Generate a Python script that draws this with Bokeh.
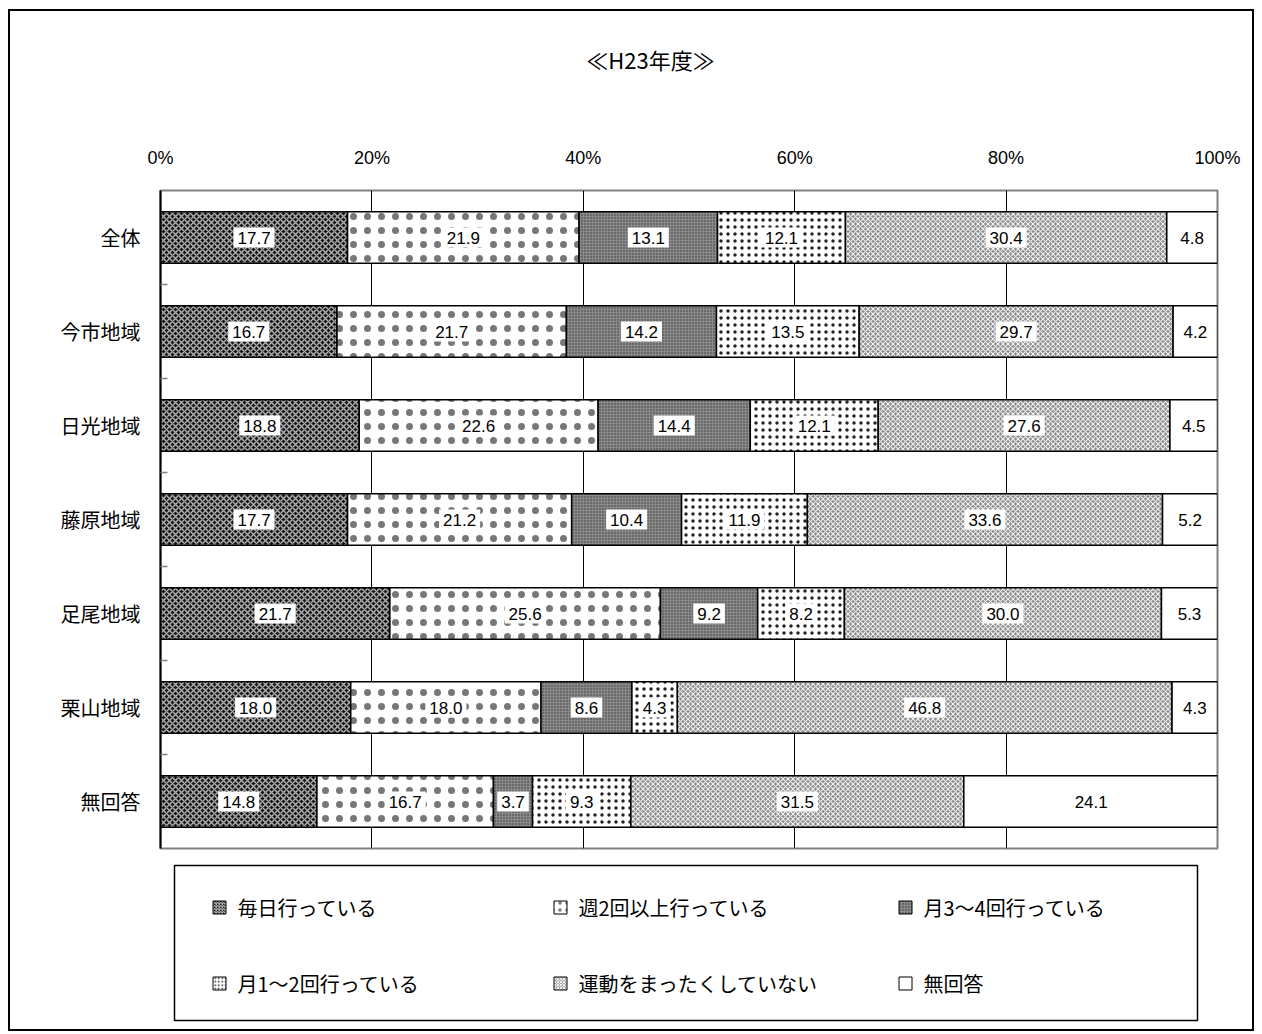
import numpy as np
from bokeh.plotting import figure
from bokeh.models import Range1d, FixedTicker
from bokeh.layouts import column
from bokeh.core.properties import value
from bokeh.embed import file_html
from bokeh.resources import INLINE

title_text = "≪H23年度≫"
categories = ["全体", "今市地域", "日光地域", "藤原地域", "足尾地域", "栗山地域", "無回答"]
series_names = ["毎日行っている", "週2回以上行っている", "月3～4回行っている",
                "月1～2回行っている", "運動をまったくしていない", "無回答"]
mainichi = [17.7, 16.7, 18.8, 17.7, 21.7, 18.0, 14.8]
shu2 = [21.9, 21.7, 22.6, 21.2, 25.6, 18.0, 16.7]
tsuki34 = [13.1, 14.2, 14.4, 10.4, 9.2, 8.6, 3.7]
tsuki12 = [12.1, 13.5, 12.1, 11.9, 8.2, 4.3, 9.3]
nashi = [30.4, 29.7, 27.6, 33.6, 30.0, 46.8, 31.5]
mukaitou = [4.8, 4.2, 4.5, 5.2, 5.3, 4.3, 24.1]
x_ticks = [0, 20, 40, 60, 80, 100]
x_tick_labels = ["0%", "20%", "40%", "60%", "80%", "100%"]

series_values = [mainichi, shu2, tsuki34, tsuki12, nashi, mukaitou]

styles = [
    dict(fill_color="#1a1a1a", hatch_pattern="diagonal_cross", hatch_color="#b0b0b0", hatch_scale=6, hatch_weight=1.4),
    dict(fill_color="white", hatch_pattern="dot", hatch_color="#777777", hatch_scale=14, hatch_weight=0.5),
    dict(fill_color="#8a8a8a", hatch_pattern="dot", hatch_color="#333333", hatch_scale=3, hatch_weight=0.9),
    dict(fill_color="white", hatch_pattern="dot", hatch_color="#222222", hatch_scale=7, hatch_weight=0.5),
    dict(fill_color="#8c8c8c", hatch_pattern="diagonal_cross", hatch_color="#f0f0f0", hatch_scale=5, hatch_weight=1.1),
    dict(fill_color="white"),
]

JP_NAME = "Noto Sans CJK JP"
LAT_NAME = "Liberation Sans"
JP = value(JP_NAME)
LAT = value(LAT_NAME)

n = len(categories)
ys = np.arange(n)
FW, FH = 1057, 658

# title strip (same frame width as the chart so frames align)
TH = 100
pt = figure(frame_width=FW, frame_height=TH, width=1242, height=TH,
            min_border_left=150, min_border_right=35, min_border_top=0, min_border_bottom=0,
            x_range=Range1d(0, FW), y_range=Range1d(TH, 0),
            output_backend="svg", toolbar_location=None)
pt.axis.visible = False
pt.grid.grid_line_color = None
pt.outline_line_color = None
pt.border_fill_color = "white"
pt.background_fill_color = "white"
pt.text(x=[490], y=[47], text=[title_text], text_align="center", text_baseline="middle",
        text_font=JP, text_font_size="22px", text_color="black")

p = figure(frame_width=FW, frame_height=FH, width=1242, height=746,
           min_border_left=150, min_border_right=35, min_border_top=79, min_border_bottom=9,
           x_range=Range1d(0, 100), y_range=Range1d(n - 0.5, -0.5),
           x_axis_location="above", output_backend="svg", toolbar_location=None)
p.outline_line_color = "#808080"
p.outline_line_width = 2
p.background_fill_color = "white"
p.border_fill_color = "white"

xa = p.xaxis[0]
xa.ticker = FixedTicker(ticks=x_ticks)
xa.major_label_overrides = {t: l for t, l in zip(x_ticks, x_tick_labels)}
xa.major_tick_in = 0
xa.major_tick_out = 0
xa.minor_tick_line_color = None
xa.axis_line_color = None
xa.major_label_standoff = 23
xa.major_label_text_font = LAT_NAME
xa.major_label_text_font_size = "18px"
xa.major_label_text_color = "black"

ya = p.yaxis[0]
ya.ticker = FixedTicker(ticks=list(range(n)), minor_ticks=[i + 0.5 for i in range(n - 1)])
ya.major_label_overrides = {i: c for i, c in enumerate(categories)}
ya.major_tick_in = 0
ya.major_tick_out = 0
ya.minor_tick_in = 7
ya.minor_tick_out = 0
ya.minor_tick_line_color = "#808080"
ya.minor_tick_line_width = 1.5
ya.axis_line_color = "black"
ya.axis_line_width = 2
ya.major_label_standoff = 20
ya.major_label_text_font = JP_NAME
ya.major_label_text_font_size = "20px"
ya.major_label_text_color = "black"

p.xgrid.ticker = FixedTicker(ticks=x_ticks[1:-1])
p.xgrid.grid_line_color = "black"
p.xgrid.grid_line_width = 1
p.ygrid.grid_line_color = None

left = np.zeros(n)
for vals, st in zip(series_values, styles):
    v = np.array(vals)
    right = left + v
    p.hbar(y=ys, left=left, right=right, height=0.55, line_color="black", line_width=1.5, **st)
    mids = left + v / 2
    p.text(x=mids, y=ys, text=[f"{x:.1f}" for x in v], text_align="center", text_baseline="middle",
           text_font=LAT, text_font_size="17px", text_color="black",
           background_fill_color="white", padding=4)
    left = right

# legend panel (same frame width as main so that frames align)
LH = 172
p2 = figure(frame_width=FW, frame_height=LH, width=1242, height=LH,
            min_border_left=150, min_border_right=35, min_border_top=0, min_border_bottom=0,
            x_range=Range1d(0, FW), y_range=Range1d(LH, 0),
            output_backend="svg", toolbar_location=None)
p2.axis.visible = False
p2.grid.grid_line_color = None
p2.outline_line_color = None
p2.border_fill_color = "white"
p2.background_fill_color = "white"

p2.quad(left=[14], right=[1037], top=[8], bottom=[163], fill_color=None, line_color="black", line_width=1.5)

leg_x = [59, 400, 745, 59, 400, 745]
leg_y = [50, 50, 50, 126, 126, 126]
for i, st in enumerate(styles):
    s2 = dict(st)
    if "hatch_scale" in s2:
        s2["hatch_scale"] = max(3, s2["hatch_scale"] * 0.5)
    p2.rect(x=[leg_x[i]], y=[leg_y[i]], width=13, height=13, width_units="screen", height_units="screen",
            line_color="black", line_width=1, **s2)
p2.text(x=[x + 18 for x in leg_x], y=leg_y, text=series_names, text_align="left", text_baseline="middle",
        text_font=JP, text_font_size="20px", text_color="black")

layout = column(pt, p, p2, spacing=0,
                styles={"border": "2px solid black", "margin-left": "8px", "margin-top": "9px"})

open("out.html", "w").write(file_html(layout, INLINE))
